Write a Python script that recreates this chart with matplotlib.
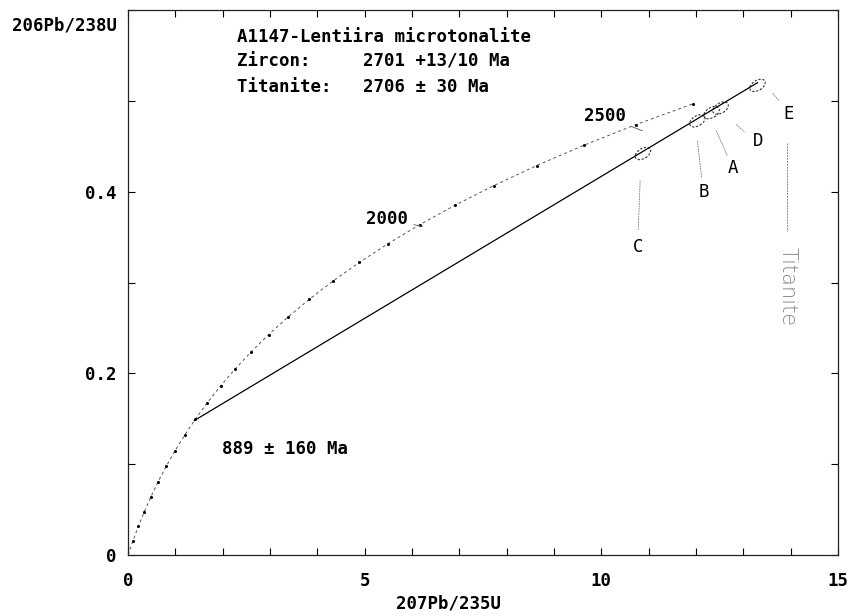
import numpy as np
import matplotlib
matplotlib.use("Agg")
import matplotlib.pyplot as plt
from matplotlib.patches import Ellipse
import matplotlib.transforms as mtransforms

# concordia marks every 100 Ma (0 - 2600 Ma)
conc_age = list(range(0, 2700, 100))
conc_x = [0.0, 0.104, 0.218, 0.344, 0.483, 0.636, 0.806, 0.993, 1.199, 1.426,
          1.677, 1.955, 2.260, 2.598, 2.970, 3.381, 3.834, 4.335, 4.887, 5.496,
          6.169, 6.911, 7.729, 8.633, 9.630, 10.730, 11.944]
conc_y = [0.0, 0.0156, 0.0315, 0.0476, 0.0640, 0.0807, 0.0975, 0.1147, 0.1321, 0.1498,
          0.1678, 0.1861, 0.2046, 0.2234, 0.2426, 0.2620, 0.2817, 0.3018, 0.3221, 0.3428,
          0.3638, 0.3851, 0.4067, 0.4287, 0.4511, 0.4738, 0.4968]

# discordia: lower / upper intercept
disc_x = [1.40, 13.30]
disc_y = [0.148, 0.520]

# analysed fractions
frac_names = ["C", "B", "A", "D", "E"]
frac_x = [10.88, 12.03, 12.33, 12.52, 13.30]
frac_y = [0.442, 0.478, 0.487, 0.492, 0.517]

# fraction label positions and leader lines
lab_x = [10.77, 12.16, 12.79, 13.32, 13.95]
lab_y = [0.339, 0.400, 0.426, 0.456, 0.486]
lead_x0 = [10.82, 12.03, 12.43, 12.85, 13.62]
lead_y0 = [0.412, 0.456, 0.467, 0.474, 0.508]
lead_x1 = [10.78, 12.12, 12.66, 13.02, 13.76]
lead_y1 = [0.358, 0.415, 0.440, 0.466, 0.500]

xticks = list(range(0, 16))
xlabels = ["0", "", "", "", "", "5", "", "", "", "", "10", "", "", "", "", "15"]
yticks = [0.0, 0.1, 0.2, 0.3, 0.4, 0.5, 0.6]
ylabels = ["0", "", "0.2", "", "0.4", "", ""]

mono = {"family": "DejaVu Sans Mono", "weight": "bold"}
fs = 12.5

fig = plt.figure(figsize=(8.52, 6.16), dpi=100)
ax = fig.add_axes([128 / 852, 61 / 616, 710 / 852, 545 / 616])
ax.set_xlim(0, 15)
ax.set_ylim(0, 0.6)

for s in ax.spines.values():
    s.set_linewidth(0.9)
    s.set_color("#222222")

ax.set_xticks(xticks)
ax.set_xticklabels(xlabels, fontdict=mono, fontsize=fs)
ax.set_yticks(yticks)
ax.set_yticklabels(ylabels, fontdict=mono, fontsize=fs)
ax.tick_params(direction="in", length=5, width=0.8, top=True, right=True)
ax.tick_params(axis="x", pad=12)
ax.tick_params(axis="y", pad=8)

# concordia
ax.plot(conc_x, conc_y, color="#555555", lw=0.7, ls=(0, (3, 3)))
ax.plot(conc_x[1:], conc_y[1:], "o", color="black", ms=2.2, mec="none")

# discordia
ax.plot(disc_x, disc_y, color="black", lw=0.9)

# error ellipses
for x, y in zip(frac_x, frac_y):
    tr = fig.dpi_scale_trans + mtransforms.ScaledTranslation(x, y, ax.transData)
    e = Ellipse((0, 0), 0.17, 0.10, angle=31, transform=tr, fill=False,
                ec="#333333", lw=0.8, ls=(0, (2, 1.5)))
    ax.add_patch(e)

# labels and leader lines
for i, name in enumerate(frac_names):
    ax.plot([lead_x0[i], lead_x1[i]], [lead_y0[i], lead_y1[i]],
            color="#777777", lw=0.6, ls=(0, (2, 1)))
    ax.text(lab_x[i], lab_y[i], name, fontsize=fs, ha="center", va="center",
            family="DejaVu Sans Mono")

# titanite line and handwritten label
ax.plot([13.93, 13.93], [0.454, 0.357], color="#888888", lw=0.7, ls=(0, (2, 1)))
ax.text(13.93, 0.296, "Titanite", rotation=-90, fontsize=15, color="#888888",
        ha="center", va="center", family="DejaVu Sans", fontweight="light")

# age labels on concordia
ax.annotate("2500", xy=(10.92, 0.466), xytext=(10.52, 0.483), fontsize=fs,
            ha="right", va="center", fontfamily="DejaVu Sans Mono", fontweight="bold",
            arrowprops=dict(arrowstyle="-", color="#555555", lw=0.6))
ax.annotate("2000", xy=(6.28, 0.361), xytext=(5.92, 0.370), fontsize=fs,
            ha="right", va="center", fontfamily="DejaVu Sans Mono", fontweight="bold",
            arrowprops=dict(arrowstyle="-", color="#555555", lw=0.6))

# text block
ax.text(2.3, 0.570, "A1147-Lentiira microtonalite", fontdict=mono, fontsize=fs, va="center")
ax.text(2.3, 0.543, "Zircon:     2701 +13/10 Ma", fontdict=mono, fontsize=fs, va="center")
ax.text(2.3, 0.515, "Titanite:   2706 \u00b1 30 Ma", fontdict=mono, fontsize=fs, va="center")
ax.text(1.99, 0.117, "889 \u00b1 160 Ma", fontdict=mono, fontsize=fs, va="center")

fig.text(12 / 852, 1 - 26 / 616, "206Pb/238U", fontdict=mono, fontsize=fs, va="center")
fig.text(448 / 852, 1 - 604 / 616, "207Pb/235U", fontdict=mono, fontsize=fs,
         ha="center", va="center")

fig.savefig("out.png", dpi=100)
